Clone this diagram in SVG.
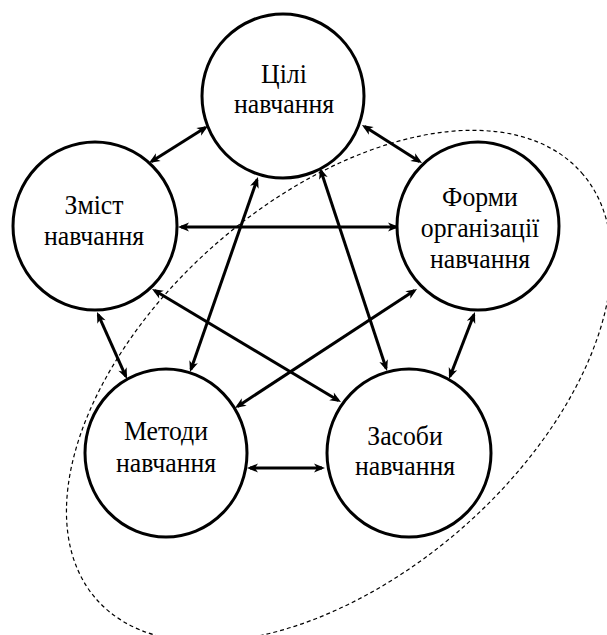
<svg xmlns="http://www.w3.org/2000/svg" width="607" height="635" viewBox="0 0 607 635">
<style>
.node ellipse{fill:#fff;stroke:#000;stroke-width:3}
.node text{font-family:"Liberation Serif","Times New Roman",serif;font-size:28px;fill:#000;text-anchor:middle}
.conn line{stroke:#000;stroke-width:3;marker-start:url(#ah);marker-end:url(#ah)}
.bound{fill:none;stroke:#000;stroke-width:1.2;stroke-dasharray:4 3}
</style>
<defs>
<marker id="ah" viewBox="-9 -5 13 10" refX="0" refY="0" markerWidth="13" markerHeight="10" markerUnits="userSpaceOnUse" orient="auto-start-reverse">
<path d="M3,0 L-8,-4.5 L-5,0 L-8,4.5 Z" fill="#000"/>
</marker>
</defs>
<rect width="607" height="635" fill="#fff"/>
<g id="boundary">
<ellipse class="bound" cx="339" cy="386" rx="323" ry="188" transform="rotate(-41.3 339 386)"/>
</g>
<g id="connectors" class="conn">
<line x1="205.5" y1="127.6" x2="151.5" y2="161.4"/>
<line x1="364.5" y1="126.6" x2="419.5" y2="161.4"/>
<line x1="181" y1="227" x2="396" y2="227"/>
<line x1="257" y1="179.8" x2="191" y2="369.2"/>
<line x1="320.9" y1="170.8" x2="386.1" y2="368.2"/>
<line x1="154.6" y1="290.5" x2="338.4" y2="400.5"/>
<line x1="414.5" y1="290.6" x2="237.5" y2="406.4"/>
<line x1="98.2" y1="314.7" x2="125.8" y2="376.3"/>
<line x1="473.9" y1="314.8" x2="450.1" y2="376.2"/>
<line x1="250" y1="468" x2="322" y2="468"/>
</g>
<g id="node-tsili" class="node">
<ellipse cx="283" cy="96" rx="81" ry="82"/>
<g transform="translate(284 0) scale(0.92 1)">
<text x="0" y="83">Цілі</text>
<text x="0" y="113">навчання</text>
</g>
</g>
<g id="node-zmist" class="node">
<ellipse cx="95" cy="226" rx="82" ry="84"/>
<g transform="translate(94 0) scale(0.92 1)">
<text x="0" y="214">Зміст</text>
<text x="0" y="245">навчання</text>
</g>
</g>
<g id="node-formy" class="node">
<ellipse cx="478" cy="226" rx="81" ry="84"/>
<g transform="translate(480 0) scale(0.92 1)">
<text x="0" y="206">Форми</text>
<text x="0" y="237">організації</text>
<text x="0" y="268">навчання</text>
</g>
</g>
<g id="node-metody" class="node">
<ellipse cx="166" cy="453" rx="81" ry="84"/>
<g transform="translate(166 0) scale(0.92 1)">
<text x="0" y="440">Методи</text>
<text x="0" y="472">навчання</text>
</g>
</g>
<g id="node-zasoby" class="node">
<ellipse cx="409" cy="453" rx="82" ry="84"/>
<g transform="translate(405 0) scale(0.92 1)">
<text x="0" y="445">Засоби</text>
<text x="0" y="475">навчання</text>
</g>
</g>
</svg>
